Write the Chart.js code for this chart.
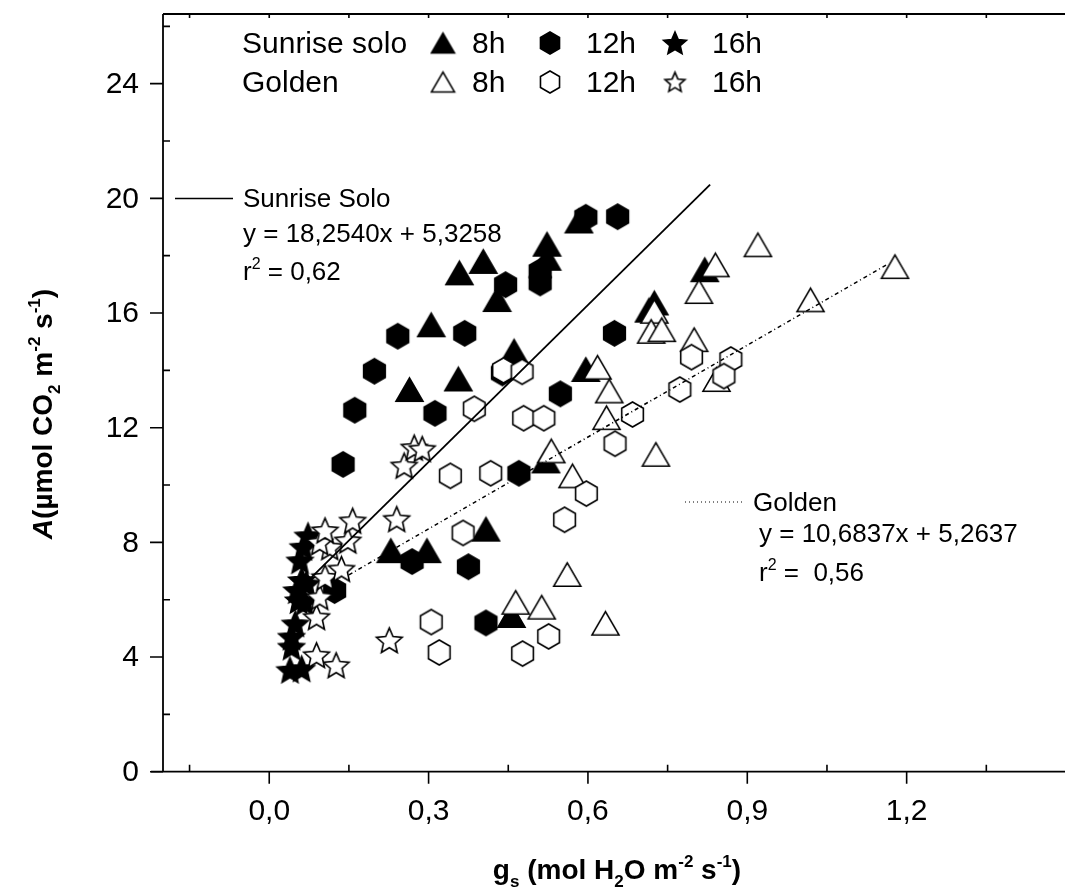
<!DOCTYPE html>
<html>
<head>
<meta charset="utf-8">
<script src="https://cdn.jsdelivr.net/npm/chart.js@4.4.1/dist/chart.umd.min.js"></script>
<style>
  html, body { margin: 0; padding: 0; background: #fff; overflow: hidden; }
  #wrap { width: 1080px; height: 892px; }
</style>
</head>
<body>
<div id="wrap"><canvas id="scatter" width="1080" height="892"></canvas></div>
<script>
// gs (x) against A (y), one array per cultivar and time of day
const sunrise8h = [[0.358,17.40],[0.403,17.80],[0.523,18.40],[0.523,17.91],[0.429,16.47],[0.583,19.21],
  [0.305,15.59],[0.264,13.33],[0.356,13.70],[0.461,14.67],[0.820,17.51],[0.725,16.35],[0.715,16.10],
  [0.596,14.03],[0.521,10.84],[0.229,7.71],[0.297,7.71],[0.408,8.46],[0.456,5.45]];
const sunrise12h = [[0.596,19.34],[0.656,19.36],[0.445,16.99],[0.510,17.45],[0.510,17.05],[0.242,15.19],
  [0.368,15.29],[0.198,13.97],[0.161,12.61],[0.312,12.50],[0.439,13.91],[0.548,13.18],[0.650,15.29],
  [0.470,10.41],[0.139,10.72],[0.123,6.32],[0.269,7.33],[0.375,7.15],[0.408,5.19]];
const sunrise16h = [[0.039,3.54],[0.061,3.59],[0.042,4.35],[0.042,4.70],[0.049,5.16],[0.055,5.97],
  [0.067,5.91],[0.052,6.32],[0.061,6.67],[0.070,6.55],[0.058,7.36],[0.064,7.83],[0.073,8.23]];
const golden8h = [[0.840,17.68],[0.920,18.38],[1.178,17.62],[0.809,16.75],[1.019,16.46],[0.725,16.06],
  [0.719,15.36],[0.739,15.42],[0.800,15.07],[0.842,13.68],[0.618,14.11],[0.640,13.28],[0.635,12.35],
  [0.531,11.19],[0.728,11.07],[0.571,10.32],[0.561,6.88],[0.464,5.91],[0.513,5.74],[0.633,5.18]];
const golden12h = [[0.441,14.00],[0.476,13.95],[0.386,12.66],[0.479,12.33],[0.517,12.33],[0.684,12.46],
  [0.651,11.44],[0.795,14.46],[0.773,13.33],[0.869,14.38],[0.856,13.80],[0.341,10.32],[0.417,10.41],
  [0.597,9.70],[0.365,8.33],[0.556,8.79],[0.305,5.22],[0.320,4.16],[0.477,4.12],[0.526,4.72]];
const golden16h = [[0.126,3.71],[0.089,4.06],[0.226,4.58],[0.089,5.39],[0.095,6.09],[0.105,6.78],
  [0.136,7.07],[0.114,7.83],[0.095,8.00],[0.148,8.06],[0.105,8.41],[0.157,8.75],[0.240,8.81],
  [0.254,10.67],[0.273,11.30],[0.288,11.25]];

// linear fits: slope, intercept, x extent of the drawn line
const sunriseFit = [18.2540, 5.3258, 0.08, 0.83];
const goldenFit = [10.6837, 5.2637, 0.15, 1.165];

const gsTicks = [0, 0.3, 0.6, 0.9, 1.2];
const gsTickLabels = ['0,0', '0,3', '0,6', '0,9', '1,2'];
const gsMinorTicks = [-0.15, 0.15, 0.45, 0.75, 1.05, 1.35];
const aTicks = [0, 4, 8, 12, 16, 20, 24];
const aMinorTicks = [2, 6, 10, 14, 18, 22, 26];

const FONT = '"Liberation Sans", Arial, Helvetica, sans-serif';

function pts(arr) { return arr.map(([x, y]) => ({ x, y })); }
function fitLine(f) { return [{ x: f[2], y: f[0] * f[2] + f[1] }, { x: f[3], y: f[0] * f[3] + f[1] }]; }

// marker images (triangle / hexagon / star, filled black or white with outline)
function marker(shape, filled, s) {
  const size = Math.ceil(s + 4);
  const c = document.createElement('canvas');
  c.width = c.height = size;
  const g = c.getContext('2d');
  g.translate(size / 2, size / 2);
  g.beginPath();
  if (shape === 'triangle') {
    const h = s * Math.sqrt(3) / 2;
    g.moveTo(0, -h / 2); g.lineTo(s / 2, h / 2); g.lineTo(-s / 2, h / 2);
  } else if (shape === 'hexagon') {
    const r = s / 2;
    for (let i = 0; i < 6; i++) {
      const a = -Math.PI / 2 + i * Math.PI / 3;
      g.lineTo(r * Math.cos(a), r * Math.sin(a));
    }
  } else {
    const ro = s / 2, ri = ro * 0.46;
    for (let i = 0; i < 10; i++) {
      const a = -Math.PI / 2 + i * Math.PI / 5, r = i % 2 ? ri : ro;
      g.lineTo(r * Math.cos(a), r * Math.sin(a) + s * 0.04);
    }
  }
  g.closePath();
  g.fillStyle = filled ? '#000' : '#fff';
  g.fill();
  g.lineWidth = 1.6;
  g.strokeStyle = '#000';
  g.lineJoin = 'miter';
  g.stroke();
  return c;
}

const icons = {
  triF: marker('triangle', true, 27), triO: marker('triangle', false, 27),
  hexF: marker('hexagon', true, 25), hexO: marker('hexagon', false, 25),
  starF: marker('star', true, 27), starO: marker('star', false, 27)
};
const legendIcons = {
  triF: marker('triangle', true, 23), triO: marker('triangle', false, 23),
  hexF: marker('hexagon', true, 22), hexO: marker('hexagon', false, 22),
  starF: marker('star', true, 24), starO: marker('star', false, 21)
};

function drawRich(ctx, parts, x, y, size, weight, align) {
  const fontFor = k => (k === 'it' ? 'italic ' : '') + weight + ' ' +
    ((k === 'sub' || k === 'sup') ? Math.round(size * 0.62) : size) + 'px ' + FONT;
  let w = 0;
  parts.forEach(([t, k]) => { ctx.font = fontFor(k); w += ctx.measureText(t).width; });
  let cx = align === 'center' ? x - w / 2 : x;
  ctx.textAlign = 'left';
  ctx.textBaseline = 'alphabetic';
  parts.forEach(([t, k]) => {
    ctx.font = fontFor(k);
    const dy = k === 'sub' ? size * 0.28 : k === 'sup' ? -size * 0.42 : 0;
    ctx.fillText(t, cx, y + dy);
    cx += ctx.measureText(t).width;
  });
}

// frame, ticks, tick labels, axis titles, key and fit labels
const decorations = {
  id: 'decorations',
  afterDraw(chart) {
    const { ctx, chartArea: ca, scales: { x, y } } = chart;
    ctx.save();
    ctx.strokeStyle = '#000';
    ctx.fillStyle = '#000';
    ctx.lineWidth = 1.8;
    ctx.beginPath();
    ctx.moveTo(ca.left, ca.top); ctx.lineTo(ca.left, ca.bottom);
    ctx.moveTo(ca.left - 12, ca.bottom); ctx.lineTo(ca.right, ca.bottom);
    ctx.moveTo(ca.left, ca.top); ctx.lineTo(ca.right, ca.top);
    ctx.stroke();

    ctx.lineWidth = 1.6;
    ctx.beginPath();
    gsTicks.forEach(v => { const p = x.getPixelForValue(v); ctx.moveTo(p, ca.bottom); ctx.lineTo(p, ca.bottom + 12); });
    gsMinorTicks.forEach(v => { const p = x.getPixelForValue(v); ctx.moveTo(p, ca.bottom); ctx.lineTo(p, ca.bottom - 7); });
    gsTicks.concat(gsMinorTicks).forEach(v => { const p = x.getPixelForValue(v); ctx.moveTo(p, ca.top); ctx.lineTo(p, ca.top + 4); });
    aTicks.forEach(v => { const p = y.getPixelForValue(v); ctx.moveTo(ca.left, p); ctx.lineTo(ca.left - 13, p); });
    aMinorTicks.forEach(v => { const p = y.getPixelForValue(v); ctx.moveTo(ca.left, p); ctx.lineTo(ca.left + 7, p); });
    ctx.stroke();

    ctx.font = '30px ' + FONT;
    ctx.textAlign = 'center';
    ctx.textBaseline = 'middle';
    gsTicks.forEach((v, i) => ctx.fillText(gsTickLabels[i], x.getPixelForValue(v), 812));
    ctx.textAlign = 'right';
    aTicks.forEach(v => ctx.fillText(String(v), 139, y.getPixelForValue(v) + 1));

    // axis titles
    drawRich(ctx, [['g', ''], ['s', 'sub'], [' (mol H', ''], ['2', 'sub'], ['O m', ''], ['-2', 'sup'],
      [' s', ''], ['-1', 'sup'], [')', '']], 617, 879, 28, 'bold', 'center');
    ctx.save();
    ctx.translate(52, 414);
    ctx.rotate(-Math.PI / 2);
    drawRich(ctx, [['A', 'it'], ['(\u00b5mol CO', ''], ['2', 'sub'], [' m', ''], ['-2', 'sup'],
      [' s', ''], ['-1', 'sup'], [')', '']], 0, 0, 28, 'bold', 'center');
    ctx.restore();

    // key
    ctx.font = '30px ' + FONT;
    ctx.textAlign = 'left';
    ctx.textBaseline = 'alphabetic';
    ctx.fillText('Sunrise solo', 242, 53);
    ctx.fillText('Golden', 242, 92);
    const rows = [[43, 53, ['triF', 'hexF', 'starF']], [82, 92, ['triO', 'hexO', 'starO']]];
    const iconX = [443, 550, 675], labelX = [472, 586, 712], labels = ['8h', '12h', '16h'];
    rows.forEach(([cy, base, keys]) => {
      keys.forEach((k, i) => {
        const im = legendIcons[k];
        ctx.drawImage(im, iconX[i] - im.width / 2, cy - im.height / 2);
        ctx.fillText(labels[i], labelX[i], base);
      });
    });

    // fit labels
    ctx.lineWidth = 1.5;
    ctx.beginPath(); ctx.moveTo(175, 198.5); ctx.lineTo(233, 198.5); ctx.stroke();
    ctx.font = '26px ' + FONT;
    ctx.fillText('Sunrise Solo', 243, 207);
    ctx.fillText('y = 18,2540x + 5,3258', 243, 242);
    drawRich(ctx, [['r', ''], ['2', 'sup'], [' = 0,62', '']], 243, 280, 26, 'normal', 'left');

    ctx.lineWidth = 1;
    ctx.setLineDash([1, 3]);
    ctx.beginPath(); ctx.moveTo(685, 502); ctx.lineTo(744, 502); ctx.stroke();
    ctx.setLineDash([]);
    ctx.font = '26px ' + FONT;
    ctx.fillText('Golden', 753, 511);
    ctx.fillText('y = 10,6837x + 5,2637', 759, 542);
    drawRich(ctx, [['r', ''], ['2', 'sup'], [' =  0,56', '']], 759, 581, 26, 'normal', 'left');
    ctx.restore();
  }
};

const series = (label, data, icon, order) => ({
  label, data: pts(data), pointStyle: icon, pointRadius: 13, showLine: false, order
});

new Chart(document.getElementById('scatter').getContext('2d'), {
  type: 'scatter',
  data: {
    datasets: [
      { label: 'Sunrise Solo fit', data: fitLine(sunriseFit), showLine: true, pointRadius: 0,
        borderColor: '#000', borderWidth: 1.8, order: 0 },
      { label: 'Golden fit', data: fitLine(goldenFit), showLine: true, pointRadius: 0,
        borderColor: '#000', borderWidth: 1.5, borderDash: [4, 3, 1, 3], order: 0 },
      series('Golden 16h', golden16h, icons.starO, 1),
      series('Golden 12h', golden12h, icons.hexO, 1),
      series('Golden 8h', golden8h, icons.triO, 1),
      series('Sunrise solo 16h', sunrise16h, icons.starF, 2),
      series('Sunrise solo 12h', sunrise12h, icons.hexF, 2),
      series('Sunrise solo 8h', sunrise8h, icons.triF, 2)
    ]
  },
  options: {
    responsive: false,
    animation: false,
    layout: { padding: { left: 163, right: 6.3, top: 11.7, bottom: 120.3 } },
    scales: {
      x: { type: 'linear', min: -0.2, max: 1.5, display: false },
      y: { type: 'linear', min: 0, max: 26.43, display: false }
    },
    plugins: { legend: { display: false }, tooltip: { enabled: false } },
    elements: { point: { hoverRadius: 13 } }
  },
  plugins: [decorations]
});
</script>
</body>
</html>
